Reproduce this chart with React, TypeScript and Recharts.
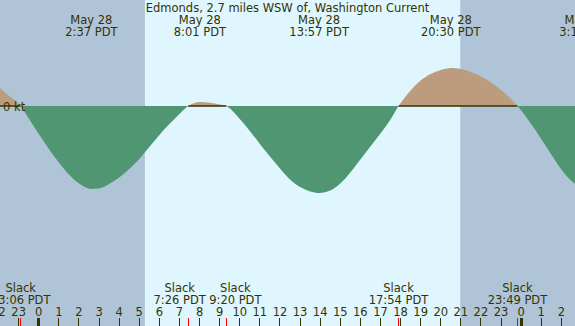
import React from "react";
import { ComposedChart, Area, XAxis, YAxis, ReferenceArea, ReferenceLine } from "recharts";

// hours after midnight May 28 (PDT) and current speed in knots (+ flood, - ebb)
const hours = [
  -2, -1.5, -0.9, -0.5, 0, 0.5, 1, 1.5, 2, 2.617,
  3, 3.5, 4, 4.5, 5, 5.5, 6, 6.5, 7, 7.433,
  7.75, 8.017, 8.5, 9, 9.333, 10, 10.5, 11, 11.5, 12,
  12.5, 13, 13.5, 13.95, 14.5, 15, 15.5, 16, 16.5, 17,
  17.5, 17.9, 18.5, 19, 19.5, 20, 20.5, 21, 21.5, 22,
  22.5, 23, 23.5, 23.817, 24, 24.5, 25, 25.5, 26, 26.5,
  27.2,
];
const knots = [
  0.38, 0.21, 0, -0.25, -0.56, -0.86, -1.13, -1.37, -1.55, -1.66,
  -1.65, -1.56, -1.43, -1.26, -1.06, -0.82, -0.58, -0.36, -0.16, 0,
  0.06, 0.08, 0.065, 0.03, 0, -0.26, -0.5, -0.76, -1.01, -1.25,
  -1.47, -1.62, -1.71, -1.74, -1.69, -1.55, -1.33, -1.07, -0.81, -0.55,
  -0.27, 0, 0.31, 0.51, 0.64, 0.72, 0.76, 0.74, 0.68, 0.59,
  0.47, 0.32, 0.14, 0, -0.09, -0.36, -0.66, -0.97, -1.27, -1.5,
  -1.66,
];

// max flood / max ebb events (top labels)
const peakHours = [2.617, 8.017, 13.95, 20.5, 27.2];
const peakDates = ["May 28", "May 28", "May 28", "May 28", "May 29"];
const peakTimes = ["2:37 PDT", "8:01 PDT", "13:57 PDT", "20:30 PDT", "3:12 PDT"];

// slack water (bottom labels)
const slackHours = [-0.9, 7.433, 9.333, 17.9, 23.817];
const slackTimes = ["23:06 PDT", "7:26 PDT", "9:20 PDT", "17:54 PDT", "23:49 PDT"];

// flood spans (zero line under the tan humps)
const floodSpans = [[-1.93, -0.9], [7.433, 9.333], [17.9, 23.817]];

const hourTicks = [-2, -1, 0, 1, 2, 3, 4, 5, 6, 7, 8, 9, 10, 11, 12, 13, 14, 15, 16, 17, 18, 19, 20, 21, 22, 23, 24, 25, 26, 27];

const sunrise = 5.28;
const sunset = 20.97;

const X0 = -1.93;
const X1 = 26.68;
const HI = 2.12;
const LO = -4.4;

const INK = "#333300";
const NIGHT = "#b0c4d8";
const DAY = "#e0f6fe";
const EBB = "#519673";
const FLOOD = "#bc9c7c";
const FONT = "DejaVu Sans";

// labels of close slacks are pushed apart so they don't collide
const slackNudge = [0, -8.5, 9, 0, 0];

const data = hours.map((h, i) => ({ h, v: knots[i] }));
const zeroOff = HI / (HI - LO);

const crisp = (x: number) => Math.round(x - 0.5) + 0.5;

const HourTick = (props: any) => {
  const { x, payload } = props;
  const label = String(((payload.value % 24) + 24) % 24);
  const mid = label === "0";
  const cx = crisp(x);
  return (
    <g>
      <text x={x} y={315.5} textAnchor="middle" fontSize={11.5} fontFamily={FONT} fill={INK}>{label}</text>
      <line x1={cx} x2={cx} y1={318} y2={326} stroke={INK} strokeWidth={mid ? 3 : 1} />
    </g>
  );
};

const PeakTick = (props: any) => {
  const { x, index } = props;
  return (
    <g>
      <text x={x} y={24} textAnchor="middle" fontSize={11.5} fontFamily={FONT} fill={INK}>{peakDates[index]}</text>
      <text x={x} y={36} textAnchor="middle" fontSize={11.5} fontFamily={FONT} fill={INK}>{peakTimes[index]}</text>
    </g>
  );
};

const SlackTick = (props: any) => {
  const { x, index } = props;
  const cx = crisp(x);
  const lx = x + slackNudge[index];
  return (
    <g>
      <text x={lx} y={292} textAnchor="middle" fontSize={11.5} fontFamily={FONT} fill={INK}>Slack</text>
      <text x={lx} y={303.5} textAnchor="middle" fontSize={11.5} fontFamily={FONT} fill={INK}>{slackTimes[index]}</text>
      <line x1={cx} x2={cx} y1={318} y2={326} stroke="#ff0000" strokeWidth={1} />
    </g>
  );
};

const KtTick = (props: any) => {
  const { y } = props;
  return (
    <text x={3} y={y + 5} fontSize={11.5} fontFamily={FONT} fill={INK}>0 kt</text>
  );
};

export default function App() {
  return (
    <div style={{ position: "absolute", left: 0, top: 0, width: 575, height: 326, background: DAY }}>
      <svg width={0} height={0} style={{ position: "absolute" }}>
        <defs>
          <linearGradient id="tideFill" gradientUnits="userSpaceOnUse" x1={0} y1={0} x2={0} y2={326}>
            <stop offset={0} stopColor={FLOOD} />
            <stop offset={zeroOff} stopColor={FLOOD} />
            <stop offset={zeroOff} stopColor={EBB} />
            <stop offset={1} stopColor={EBB} />
          </linearGradient>
        </defs>
      </svg>
      <ComposedChart width={575} height={326} data={data} margin={{ top: 0, right: 0, bottom: 0, left: 0 }}>
        <XAxis xAxisId="hr" dataKey="h" type="number" domain={[X0, X1]} allowDataOverflow
          ticks={hourTicks} interval={0} tick={HourTick} axisLine={false} tickLine={false}
          orientation="bottom" mirror />
        <XAxis xAxisId="pk" dataKey="h" type="number" domain={[X0, X1]} allowDataOverflow
          ticks={peakHours} interval={0} tick={PeakTick} axisLine={false} tickLine={false}
          orientation="top" mirror />
        <XAxis xAxisId="sl" dataKey="h" type="number" domain={[X0, X1]} allowDataOverflow
          ticks={slackHours} interval={0} tick={SlackTick} axisLine={false} tickLine={false}
          orientation="bottom" mirror />
        <YAxis type="number" domain={[LO, HI]} allowDataOverflow ticks={[0]} tick={KtTick}
          axisLine={false} tickLine={false} mirror />
        <ReferenceArea xAxisId="hr" x1={X0} x2={sunrise} fill={NIGHT} fillOpacity={1} stroke="none" ifOverflow="visible" />
        <ReferenceArea xAxisId="hr" x1={sunset} x2={X1} fill={NIGHT} fillOpacity={1} stroke="none" ifOverflow="visible" />
        <Area xAxisId="hr" dataKey="v" type="monotone" stroke="none" fill="url(#tideFill)" fillOpacity={1}
          baseValue={0} dot={false} activeDot={false} isAnimationActive={false} />
        {floodSpans.map(([a, b]) => (
          <ReferenceLine key={a} xAxisId="hr" segment={[{ x: a, y: 0 }, { x: b, y: 0 }]}
            stroke={INK} strokeWidth={1.5} ifOverflow="visible" />
        ))}
        <text x={287.5} y={12} textAnchor="middle" fontSize={11.5} fontFamily={FONT} fill={INK}>
          Edmonds, 2.7 miles WSW of, Washington Current
        </text>
      </ComposedChart>
    </div>
  );
}
